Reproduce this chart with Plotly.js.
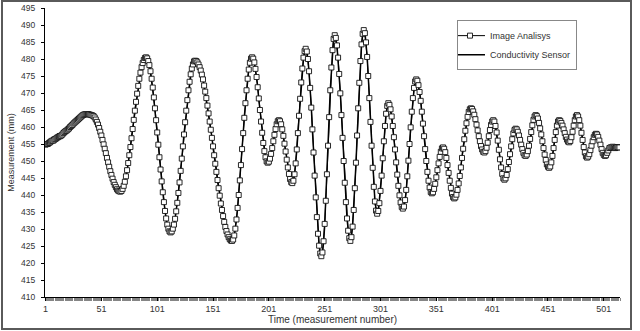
<!DOCTYPE html>
<html>
<head>
<meta charset="utf-8">
<script src="https://cdn.plot.ly/plotly-3.0.1.min.js"></script>
<style>
  html, body { margin: 0; padding: 0; background: #fff; }
  #wrap { position: relative; width: 640px; height: 331px; }
  #chart { position: absolute; left: 0; top: 0; width: 640px; height: 331px; }
  #frame { position: absolute; left: 1px; top: 0px; width: 631px; height: 330px;
           border: 2px solid #5a5a5a; box-sizing: border-box; pointer-events: none; }
</style>
</head>
<body>
<div id="wrap"><div id="chart"></div><div id="frame"></div></div>
<script>
const imageAnalysis = [
454.8,455,455,455.3,455.5,455.8,456,456,456.3,456.5,
456.8,457,457.2,457.3,457.5,457.8,458.2,458.5,458.8,459,
459.3,459.6,460,460.3,460.6,461,461.3,461.6,461.9,462.2,
462.5,462.8,463.1,463.4,463.6,463.7,463.8,463.8,463.8,463.7,
463.6,463.5,463.4,463.2,462.8,462.2,461.5,460.7,459.7,458.6,
457.5,456.2,454.9,453.6,452.3,450.9,449.6,448.3,447.0,445.9,
444.8,443.8,443.0,442.3,441.7,441.3,441.1,441,441.2,441.8,
442.7,443.9,445.5,447.3,449.4,451.7,454.1,456.7,459.4,462.1,
464.8,467.4,469.8,472.1,474.2,476.0,477.6,478.8,479.7,480.3,
480.5,480.2,479.4,478.2,476.4,474.2,471.6,468.7,465.5,462.0,
458.4,454.8,451.1,447.5,444.0,440.8,437.9,435.3,433.1,431.3,
430.1,429.3,429,429.3,430.1,431.3,433.0,435.2,437.7,440.6,
443.7,447.1,450.7,454.3,457.8,461.4,464.8,467.9,470.8,473.3,
475.5,477.2,478.4,479.3,479.5,479.4,479.0,478.4,477.6,476.6,
475.4,474.0,472.2,470.4,468.5,466.3,464.0,461.6,459.2,456.8,
454.3,451.7,449.2,446.8,444.4,442.0,439.8,437.5,435.6,433.8,
432.1,430.6,429.4,428.4,427.6,427.0,426.6,426.5,426.9,428.1,
430.1,432.8,436.2,440.0,444.3,448.8,453.5,458.2,462.7,467.0,
470.8,474.2,476.9,478.9,480.1,480.5,480.1,479.0,477.1,474.7,
471.7,468.4,465.0,461.6,458.3,455.3,452.9,451.1,449.9,449.5,
449.8,450.7,452.1,453.8,455.8,457.7,459.4,460.8,461.7,462,
461.7,460.8,459.3,457.4,455.1,452.8,450.4,448.1,446.2,444.7,
443.8,443.5,444.2,446.1,449.3,453.4,458.2,463.3,468.3,473.1,
477.2,480.4,482.3,483,482.2,480.0,476.4,471.5,465.7,459.3,
452.5,445.7,439.3,433.5,428.6,425.1,422.8,422,423.1,426.4,
431.5,438.3,446.1,454.5,462.9,470.8,477.5,482.6,485.9,487,
486.2,484.0,480.4,475.6,469.9,463.5,456.8,450.0,443.6,437.9,
433.1,429.5,427.3,426.5,427.6,430.7,435.6,442.0,449.5,457.5,
465.5,473.0,479.4,484.3,487.4,488.5,487.6,484.9,480.6,475.0,
468.5,461.5,454.5,448.0,442.4,438.1,435.4,434.5,435.3,437.6,
441.2,445.7,450.8,455.8,460.3,463.9,466.2,467,466.5,465.2,
463.1,460.3,457.0,453.4,449.6,446.0,442.7,439.9,437.8,436.5,
436,436.6,438.5,441.5,445.5,450.1,455.0,459.9,464.5,468.5,
471.5,473.4,474,473.6,472.3,470.3,467.7,464.5,461.0,457.3,
453.5,450.0,446.8,444.2,442.2,440.9,440.5,440.8,441.8,443.3,
445.2,447.3,449.3,451.2,452.7,453.7,454,453.6,452.6,450.9,
448.8,446.5,444.2,442.1,440.4,439.4,439,439.3,440.1,441.5,
443.4,445.6,448.1,450.9,453.6,456.4,458.9,461.1,463.0,464.4,
465.2,465.5,465.3,464.6,463.6,462.3,460.7,459.0,457.3,455.8,
454.4,453.4,452.7,452.5,452.9,453.9,455.4,457.3,459.1,460.6,
461.6,462,461.6,460.3,458.4,456.0,453.3,450.5,448.1,446.2,
444.9,444.5,444.9,445.9,447.6,449.7,452.0,454.3,456.4,458.1,
459.1,459.5,459.3,458.6,457.5,456.2,454.8,453.5,452.4,451.7,
451.5,451.9,452.9,454.5,456.5,458.5,460.5,462.1,463.1,463.5,
463.2,462.5,461.2,459.6,457.8,455.8,453.8,451.9,450.3,449.0,
448.3,448,448.4,449.6,451.5,453.8,456.2,458.5,460.4,461.6,
462,461.8,461.2,460.4,459.3,458.2,457.1,456.3,455.7,455.5,
455.9,457.0,458.6,460.4,462.0,463.1,463.5,463.1,462.0,460.4,
458.3,456.2,454.1,452.5,451.4,451,451.3,452.0,453.2,454.5,
455.8,457.0,457.7,458,457.8,457.1,456.0,454.8,453.5,452.4,
451.8,451.5,451.7,452.4,453.1,453.8,454,454,454.2,454,
453.8,454,454.1,454,454
];

const conductivitySensor = [
455,455,456,456,456,456,457,457,457,457,
457,458,458,458,458,459,459,459,459,460,
460,460,461,461,461,462,462,462,463,463,
463,463,464,464,464,464,464,464,464,464,
464,463,463,463,463,462,461,460,459,458,
457,456,455,453,452,451,449,448,447,446,
445,444,443,442,442,441,441,441,441,442,
443,444,445,447,449,452,454,457,459,462,
465,467,470,472,474,476,478,479,480,480,
480,480,479,478,476,474,471,468,465,462,
458,455,451,447,444,441,438,435,433,431,
430,429,429,429,430,431,433,435,438,441,
444,447,451,454,458,461,465,468,471,473,
475,477,478,479,479,479,479,478,477,476,
475,474,472,470,468,466,464,462,459,457,
454,452,449,447,444,442,440,438,436,434,
432,431,429,428,428,427,427,427,427,428,
430,433,436,440,444,449,453,458,463,467,
471,474,477,479,480,480,480,479,477,475,
472,468,465,462,458,455,453,451,450,450,
450,451,452,454,456,458,459,461,462,462,
462,461,459,457,455,453,450,448,446,445,
444,444,444,446,449,453,458,463,468,473,
477,480,482,483,482,480,476,472,466,459,
453,446,439,434,429,425,423,422,423,426,
431,438,446,454,463,471,477,482,486,487,
486,484,480,476,470,464,457,450,444,438,
433,430,427,427,428,431,436,442,449,457,
465,473,479,484,487,488,488,485,481,475,
469,462,455,448,442,438,436,435,435,438,
441,446,451,456,460,464,466,467,466,465,
463,460,457,453,450,446,443,440,438,437,
436,437,438,441,445,450,455,460,464,468,
471,473,474,473,472,470,468,464,461,457,
454,450,447,444,442,441,441,441,442,443,
445,447,449,451,453,454,454,454,453,451,
449,446,444,442,440,439,439,439,440,441,
443,446,448,451,454,456,459,461,463,464,
465,465,465,465,464,462,461,459,457,456,
454,453,453,452,453,454,455,457,459,461,
462,462,462,460,458,456,453,451,448,446,
445,445,445,446,448,450,452,454,456,458,
459,459,459,459,457,456,455,453,452,452,
451,452,453,454,456,458,460,462,463,463,
463,462,461,460,458,456,454,452,450,449,
448,448,448,450,451,454,456,458,460,462,
462,462,461,460,459,458,457,456,456,455,
456,457,459,460,462,463,463,463,462,460,
458,456,454,452,451,451,451,452,453,454,
456,457,458,458,458,457,456,455,453,452,
452,451,452,452,453,454,454,454,454,454,
454,454,454,454,454
];

const seriesNames = ["Image Analisys", "Conductivity Sensor"];
const xTitle = "Time (measurement number)";
const yTitle = "Measurement (mm)";
const xTickStart = 1, xTickStep = 50;
const yMin = 410, yMax = 495, yStep = 5;

const xs = imageAnalysis.map((_, i) => i + 1);
const font = "Arial, 'Liberation Sans', sans-serif";

const traces = [
  {
    x: xs, y: conductivitySensor, name: seriesNames[1], type: "scatter", mode: "lines",
    line: { color: "#000", width: 1.5 }, legendrank: 2
  },
  {
    x: xs, y: imageAnalysis, name: seriesNames[0], type: "scatter", mode: "lines+markers",
    line: { color: "#000", width: 1 },
    marker: { symbol: "square", size: 5, color: "#fff", line: { color: "#111", width: 0.9 } },
    legendrank: 1
  }
];

const layout = {
  width: 640, height: 331,
  margin: { l: 45, r: 20, t: 8, b: 34 },
  paper_bgcolor: "#fff", plot_bgcolor: "#fff",
  font: { family: font, size: 9, color: "#222" },
  showlegend: true,
  legend: {
    x: 0.7165, y: 0.958, xanchor: "left", yanchor: "top",
    bgcolor: "#fff", bordercolor: "#888", borderwidth: 1,
    font: { family: font, size: 9, color: "#333" },
    tracegroupgap: 0, itemwidth: 30, indentation: -8
  },
  xaxis: {
    range: [0.5, xs.length + 0.5],
    tickmode: "linear", tick0: xTickStart, dtick: xTickStep,
    showgrid: false, zeroline: false,
    showline: true, linecolor: "#000", linewidth: 1,
    ticks: "outside", ticklen: 3, tickcolor: "#000",
    minor: { ticks: "outside", ticklen: 3, tick0: 0.5, dtick: 1, tickcolor: "#333", tickwidth: 0.6, showgrid: false },
    tickfont: { family: font, size: 9, color: "#333" },
    title: { text: xTitle, font: { family: font, size: 10, color: "#333" }, standoff: 0 }
  },
  yaxis: {
    range: [yMin, yMax],
    tickmode: "linear", tick0: yMin, dtick: yStep,
    showgrid: false, zeroline: false,
    showline: true, linecolor: "#000", linewidth: 1,
    ticks: "outside", ticklen: 3, tickcolor: "#000",
    ticklabelstandoff: 4,
    tickfont: { family: font, size: 8.5, color: "#333" },
    title: { text: yTitle, font: { family: font, size: 9, color: "#333" }, standoff: 4 }
  }
};

Plotly.newPlot("chart", traces, layout, { staticPlot: true, displayModeBar: false });
</script>
</body>
</html>
